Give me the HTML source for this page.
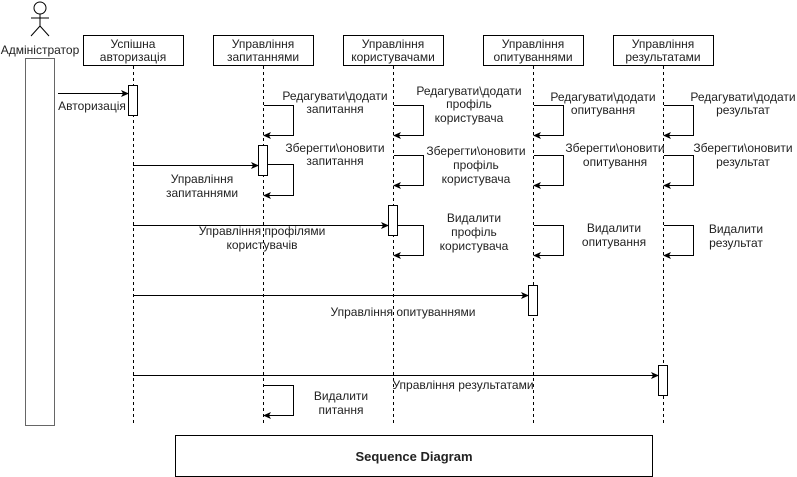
<!DOCTYPE html>
<html><head><meta charset="utf-8"><style>
body{margin:0;background:#fff}
svg{display:block}
text{font-family:"Liberation Sans",Arial,sans-serif;font-size:12px;fill:#222}
</style></head><body>
<svg width="797" height="477" viewBox="0 0 797 477" xmlns="http://www.w3.org/2000/svg">
<defs><marker id="a" markerWidth="8" markerHeight="8" refX="7" refY="4" orient="auto" markerUnits="userSpaceOnUse"><path d="M0,0.5 L8,4 L0,7.5 L2,4 Z" fill="#000"/></marker></defs>
<g stroke="#000" fill="none">
<!-- actor -->
<circle cx="40" cy="8" r="6"/>
<line x1="40" y1="14" x2="40" y2="26"/><line x1="31" y1="18" x2="49" y2="18"/>
<line x1="40" y1="26" x2="31" y2="36"/><line x1="40" y1="26" x2="49" y2="36"/>
<rect x="25.5" y="58.5" width="29" height="367" stroke="#666"/>
<!-- boxes -->
<rect x="83.5" y="35.5" width="100" height="30"/>
<rect x="213.5" y="35.5" width="100" height="30"/>
<rect x="343.5" y="35.5" width="100" height="30"/>
<rect x="483.5" y="35.5" width="100" height="30"/>
<rect x="613.5" y="35.5" width="100" height="30"/>
<!-- lifelines -->
<g stroke-dasharray="3,3">
<line x1="133.5" y1="66" x2="133.5" y2="426"/>
<line x1="263.5" y1="66" x2="263.5" y2="426"/>
<line x1="393.5" y1="66" x2="393.5" y2="426"/>
<line x1="533.5" y1="66" x2="533.5" y2="426"/>
<line x1="663.5" y1="66" x2="663.5" y2="426"/>
</g>
<!-- activations -->
<rect x="128.5" y="85.5" width="9" height="30" fill="#fff"/>
<rect x="258.5" y="145.5" width="9" height="30" fill="#fff"/>
<rect x="388.5" y="205.5" width="9" height="30" fill="#fff"/>
<rect x="528.5" y="285.5" width="9" height="30" fill="#fff"/>
<rect x="658.5" y="365.5" width="9" height="30" fill="#fff"/>
<!-- messages -->
<line x1="58" y1="93.5" x2="128" y2="93.5" marker-end="url(#a)"/>
<line x1="133" y1="165.5" x2="258" y2="165.5" marker-end="url(#a)"/>
<line x1="133" y1="225.5" x2="388" y2="225.5" marker-end="url(#a)"/>
<line x1="133" y1="295.5" x2="528" y2="295.5" marker-end="url(#a)"/>
<line x1="133" y1="375.5" x2="658" y2="375.5" marker-end="url(#a)"/>
<!-- self loops -->
<polyline points="264,105.5 293.5,105.5 293.5,135.5 264,135.5" marker-end="url(#a)"/>
<polyline points="268,164.5 293.5,164.5 293.5,195.5 264,195.5" marker-end="url(#a)"/>
<polyline points="264,385.5 293.5,385.5 293.5,415.5 264,415.5" marker-end="url(#a)"/>
<polyline points="394,105.5 423.5,105.5 423.5,135.5 394,135.5" marker-end="url(#a)"/>
<polyline points="394,155.5 423.5,155.5 423.5,185.5 394,185.5" marker-end="url(#a)"/>
<polyline points="398,225.5 423.5,225.5 423.5,255.5 394,255.5" marker-end="url(#a)"/>
<polyline points="534,105.5 563.5,105.5 563.5,135.5 534,135.5" marker-end="url(#a)"/>
<polyline points="534,155.5 563.5,155.5 563.5,185.5 534,185.5" marker-end="url(#a)"/>
<polyline points="534,225.5 563.5,225.5 563.5,255.5 534,255.5" marker-end="url(#a)"/>
<polyline points="664,105.5 693.5,105.5 693.5,135.5 664,135.5" marker-end="url(#a)"/>
<polyline points="664,155.5 693.5,155.5 693.5,185.5 664,185.5" marker-end="url(#a)"/>
<polyline points="664,225.5 693.5,225.5 693.5,255.5 664,255.5" marker-end="url(#a)"/>
<rect x="175.5" y="435.5" width="477" height="41"/>
</g>
<g text-anchor="middle">
<text x="40" y="54">Адміністратор</text>
<text x="133" y="48">Успішна</text><text x="133" y="61">авторизація</text>
<text x="263" y="48">Управління</text><text x="263" y="61">запитаннями</text>
<text x="393" y="48">Управління</text><text x="393" y="61">користувачами</text>
<text x="533" y="48">Управління</text><text x="533" y="61">опитуваннями</text>
<text x="663" y="48">Управління</text><text x="663" y="61">результатами</text>
<text x="92" y="110">Авторизація</text>
<text x="202" y="183">Управління</text><text x="202" y="197">запитаннями</text>
<text x="262" y="235">Управління профілями</text><text x="262" y="249">користувачів</text>
<text x="403" y="316">Управління опитуваннями</text>
<text x="463" y="389">Управління результатами</text>
<text x="335" y="100">Редагувати\додати</text><text x="335" y="113">запитання</text>
<text x="335" y="152">Зберегти\оновити</text><text x="335" y="165">запитання</text>
<text x="341" y="400">Видалити</text><text x="341" y="414">питання</text>
<text x="469" y="95">Редагувати\додати</text><text x="469" y="108">профіль</text><text x="469" y="122">користувача</text>
<text x="476" y="155">Зберегти\оновити</text><text x="476" y="169">профіль</text><text x="476" y="183">користувача</text>
<text x="474" y="222">Видалити</text><text x="474" y="236">профіль</text><text x="474" y="250">користувача</text>
<text x="603" y="101">Редагувати\додати</text><text x="603" y="114">опитування</text>
<text x="615" y="152">Зберегти\оновити</text><text x="615" y="166">опитування</text>
<text x="614" y="232">Видалити</text><text x="614" y="246">опитування</text>
<text x="743" y="101">Редагувати\додати</text><text x="743" y="114">результат</text>
<text x="743" y="152">Зберегти\оновити</text><text x="743" y="166">результат</text>
<text x="736" y="233">Видалити</text><text x="736" y="247">результат</text>
<text x="414" y="461" style="font-weight:bold;font-size:13px">Sequence Diagram</text>
</g>
</svg>
</body></html>
